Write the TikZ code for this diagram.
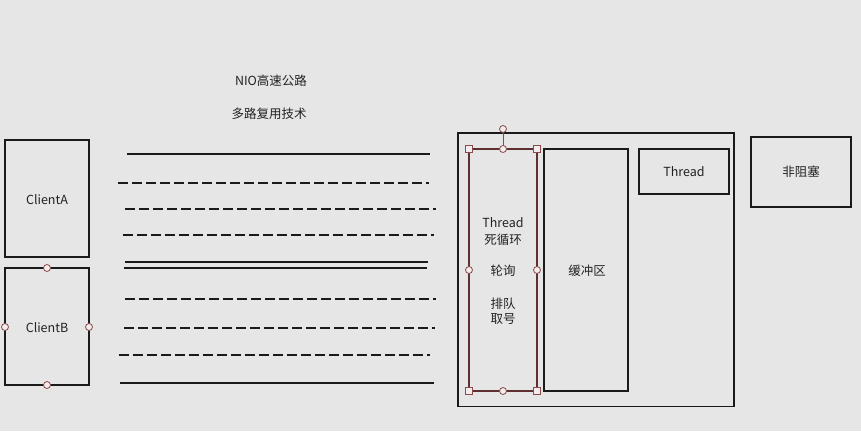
\documentclass[tikz,border=0pt]{standalone}
\usepackage{fontspec}
\setmainfont{Noto Sans CJK SC}
\definecolor{bg}{HTML}{E6E6E6}
\definecolor{ink}{HTML}{1A1A1A}
\definecolor{txt}{HTML}{222222}
\definecolor{sel}{HTML}{5E3030}
\definecolor{hdl}{HTML}{8A4A4A}
\definecolor{hfill}{HTML}{F4ECEC}
\begin{document}
\begin{tikzpicture}[x=1pt,y=-1pt,
  box/.style={draw=ink,line width=1.6pt},
  lbl/.style={text=txt,font=\fontsize{12.5}{15}\selectfont,inner sep=0pt},
  solidline/.style={draw=ink,line width=1.8pt},
  dashline/.style={draw=ink,line width=1.8pt,dash pattern=on 9.5pt off 4.5pt},
  hcirc/.style={draw=hdl,fill=hfill,line width=0.8pt,circle,minimum size=7pt,inner sep=0pt},
  hsq/.style={draw=hdl,fill=hfill,line width=0.8pt,rectangle,minimum size=7pt,inner sep=0pt}]
\fill[bg] (0,0) rectangle (861,431);
\useasboundingbox (0,0) rectangle (861,431);

% titles
\node[lbl] (t1) at (271,81) {NIO高速公路};
\node[lbl] (t2) at (269,114) {多路复用技术};

% clients
\draw[box] (5,140) rectangle (89,257);
\node[lbl] (ca) at (47,200) {ClientA};
\draw[box] (5,268) rectangle (89,385);
\node[lbl] (cb) at (47,328) {ClientB};
\node[hcirc] (cbh1) at (47,268) {};
\node[hcirc] (cbh2) at (47,385) {};
\node[hcirc] (cbh3) at (5,327) {};
\node[hcirc] (cbh4) at (89,327) {};

% highway lines
\draw[solidline] (127,154) -- (430,154);
\draw[dashline] (118,183) -- (429,183);
\draw[dashline] (125,209) -- (436,209);
\draw[dashline] (123,235) -- (434,235);
\draw[solidline] (125,262) -- (428,262);
\draw[solidline] (124,267.7) -- (427,267.7);
\draw[dashline] (125,299) -- (436,299);
\draw[dashline] (124,328) -- (435,328);
\draw[dashline] (119,355) -- (430,355);
\draw[solidline] (120,383) -- (434,383);

% server
\draw[box] (458,133) rectangle (734,406.5);
\draw[box] (544,149) rectangle (628,391);
\node[lbl] (buf) at (587,271) {缓冲区};
\draw[box] (639,149) rectangle (729,194);
\node[lbl] (th2) at (684,172) {Thread};

% selected loop box
\draw[draw=sel,line width=1.6pt] (469,149) rectangle (537,391);
\draw[draw=hdl,line width=0.8pt] (503,133) -- (503,149);
\node[hcirc] (rot) at (503,129) {};
\node[hsq] (s1) at (469,149) {};
\node[hsq] (s2) at (537,149) {};
\node[hsq] (s3) at (469,391) {};
\node[hsq] (s4) at (537,391) {};
\node[hcirc] (m1) at (503,149) {};
\node[hcirc] (m2) at (503,391) {};
\node[hcirc] (m3) at (469,270) {};
\node[hcirc] (m4) at (537,270) {};
\node[lbl] (l1) at (503,223) {Thread};
\node[lbl] (l2) at (503,239.5) {死循环};
\node[lbl] (l3) at (503,271) {轮询};
\node[lbl] (l4) at (503,303.5) {排队};
\node[lbl] (l5) at (503,319.5) {取号};

% non-blocking
\draw[box] (751,137) rectangle (851,207);
\node[lbl] (nb) at (801,172) {非阻塞};
\end{tikzpicture}
\end{document}
